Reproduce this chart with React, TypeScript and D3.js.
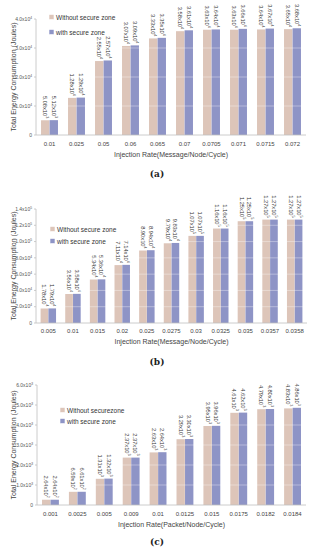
import React from "react";
import * as d3 from "d3";

const catsA = ["0.01", "0.025", "0.05", "0.06", "0.065", "0.07", "0.0705", "0.071", "0.0715", "0.072"];
const withoutA = ["5.08x10^3", "1.28x10^4", "2.55x10^4", "3.07x10^4", "3.33x10^4", "3.58x10^4", "3.63x10^4", "3.63x10^4", "3.64x10^4", "3.65x10^4"];
const withA = ["5.12x10^3", "1.29x10^4", "2.57x10^4", "3.09x10^4", "3.35x10^4", "3.61x10^4", "3.64x10^4", "3.66x10^4", "3.67x10^4", "3.68x10^4"];
const ticksA = ["0", "1.0x10^4", "2.0x10^4", "3.0x10^4", "4.0x10^4"];

const catsB = ["0.005", "0.01", "0.015", "0.02", "0.025", "0.0275", "0.03", "0.0325", "0.035", "0.0357", "0.0358"];
const withoutB = ["1.78x10^4", "3.56x10^4", "5.34x10^4", "7.11x10^4", "8.90x10^4", "9.79x10^4", "1.07x10^5", "1.16x10^5", "1.25x10^5", "1.27x10^5", "1.27x10^5"];
const withB = ["1.79x10^4", "3.58x10^4", "5.36x10^4", "7.14x10^4", "8.94x10^4", "9.83x10^4", "1.07x10^5", "1.16x10^5", "1.25x10^5", "1.27x10^5", "1.27x10^5"];
const ticksB = ["0", "2.0x10^4", "4.0x10^4", "6.0x10^4", "8.0x10^4", "1.0x10^5", "1.2x10^5", "1.4x10^5"];

const catsC = ["0.001", "0.0025", "0.005", "0.009", "0.01", "0.0125", "0.015", "0.0175", "0.0182", "0.0184"];
const withoutC = ["2.64x10^2", "6.59x10^2", "1.31x10^3", "2.37x10^3", "2.63x10^3", "3.29x10^3", "3.95x10^3", "4.61x10^3", "4.79x10^3", "4.83x10^3"];
const withC = ["2.64x10^2", "6.61x10^2", "1.32x10^3", "2.37x10^3", "2.64x10^3", "3.30x10^3", "3.96x10^3", "4.62x10^3", "4.80x10^3", "4.86x10^3"];
const ticksC = ["0", "1.0x10^3", "2.0x10^3", "3.0x10^3", "4.0x10^3", "5.0x10^3", "6.0x10^3"];

const FONT = "'Liberation Sans', Arial, sans-serif";
const C1 = "#ddc5b9";
const C2 = "#8e94c6";

function parseSci(s: string): number {
  if (!s.includes("x10^")) return +s;
  const [m, e] = s.split("x10^");
  return +m * Math.pow(10, +e);
}

function Sci({ s, size }: { s: string; size: number }) {
  if (!s.includes("x10^")) return <>{s}</>;
  const [m, e] = s.split("x10^");
  return (
    <>
      <tspan>{m + "x10"}</tspan>
      <tspan fontSize={size * 0.65} dy={-size * 0.4}>{e}</tspan>
    </>
  );
}

type PanelProps = {
  cats: string[];
  s1: string[];
  s2: string[];
  ticks: string[];
  x0: number;
  x1: number;
  yTop: number;
  yZero: number;
  legendX: number;
  legendY: number;
  legendGap: number;
  names: string[];
  xTitle: string;
  caption: string;
  captionY: number;
  xLabelY: number;
  xTitleY: number;
};

function Panel(p: PanelProps) {
  const tickVals = p.ticks.map(parseSci);
  const yMax = d3.max(tickVals) as number;
  const y = d3.scaleLinear().domain([0, yMax]).range([p.yZero, p.yTop]);
  const x = d3.scaleBand().domain(p.cats).range([p.x0, p.x1]).paddingInner(0.36).paddingOuter(0.18);
  const inner = d3.scaleBand().domain(["a", "b"]).range([0, x.bandwidth()]).padding(0.02);
  const series = [
    { key: "a", data: p.s1, color: C1 },
    { key: "b", data: p.s2, color: C2 },
  ];
  const midX = (p.x0 + p.x1) / 2;
  const yMid = (p.yTop + p.yZero) / 2;
  return (
    <g fontFamily={FONT}>
      <line x1={p.x0} x2={p.x0} y1={p.yTop} y2={p.yZero} stroke="#bfbfbf" strokeWidth={0.8} />
      {tickVals.map((v, i) => (
        <g key={i}>
          <line x1={p.x0 - 2} x2={p.x0} y1={y(v)} y2={y(v)} stroke="#bfbfbf" strokeWidth={0.8} />
          <text x={p.x0 - 4} y={y(v)} dy="0.35em" textAnchor="end" fontSize={5} fill="#555">
            <Sci s={p.ticks[i]} size={5} />
          </text>
        </g>
      ))}
      {series.map((s) =>
        s.data.map((lab, i) => {
          const v = parseSci(lab);
          const bx = (x(p.cats[i]) as number) + (inner(s.key) as number);
          const bw = inner.bandwidth();
          return (
            <g key={s.key + i}>
              <rect x={bx} y={y(v)} width={bw} height={p.yZero - y(v)} fill={s.color} />
              <text
                transform={`translate(${bx + bw / 2},${y(v) - 2}) rotate(90)`}
                textAnchor="end"
                dominantBaseline="central"
                fontSize={5.7}
                fill="#333"
              >
                <Sci s={lab} size={5.7} />
              </text>
            </g>
          );
        })
      )}
      {tickVals.slice(1).map((v, i) => (
        <line key={i} x1={p.x0 + 1} x2={p.x1} y1={y(v)} y2={y(v)} stroke="#ffffff" strokeOpacity={0.45} strokeWidth={0.8} />
      ))}
      <line x1={p.x0} x2={p.x1} y1={p.yZero} y2={p.yZero} stroke="#bfbfbf" strokeWidth={0.8} />
      {p.cats.map((c) => (
        <text key={c} x={(x(c) as number) + x.bandwidth() / 2} y={p.xLabelY} textAnchor="middle" dominantBaseline="central" fontSize={6} fill="#444">
          {c}
        </text>
      ))}
      <text x={midX} y={p.xTitleY} textAnchor="middle" dominantBaseline="central" fontSize={7} fill="#444">
        {p.xTitle}
      </text>
      <text transform={`translate(13,${yMid}) rotate(-90)`} textAnchor="middle" dominantBaseline="central" fontSize={7} fill="#444">
        Total Energy Consumption (Joules)
      </text>
      {[C1, C2].map((col, i) => (
        <g key={i}>
          <rect x={p.legendX} y={p.legendY + i * p.legendGap - 2.5} width={5} height={5} fill={col} stroke="#ffffff" strokeWidth={0.6} />
          <text x={p.legendX + 7} y={p.legendY + i * p.legendGap} dominantBaseline="central" fontSize={6.5} fill="#333">
            {p.names[i]}
          </text>
        </g>
      ))}
      <text x={157} y={p.captionY} textAnchor="middle" dominantBaseline="central" fontSize={9} fontWeight="bold" fontFamily="'DejaVu Serif', serif" fill="#222">
        {p.caption}
      </text>
    </g>
  );
}

export default function App() {
  return (
    <svg width={311} height={550} style={{ position: "absolute", left: 0, top: 0, background: "#fff" }}>
      <rect width={311} height={550} fill="#fff" />
      <Panel
        cats={catsA}
        s1={withoutA}
        s2={withA}
        ticks={ticksA}
        x0={36}
        x1={306}
        yTop={19}
        yZero={135}
        legendX={49}
        legendY={17}
        legendGap={15}
        names={["Without secure zone", "with secure zone"]}
        xTitle="Injection Rate(Message/Node/Cycle)"
        caption="(a)"
        captionY={174}
        xLabelY={144}
        xTitleY={154}
      />
      <Panel
        cats={catsB}
        s1={withoutB}
        s2={withB}
        ticks={ticksB}
        x0={36}
        x1={307}
        yTop={209}
        yZero={323}
        legendX={50}
        legendY={229}
        legendGap={12}
        names={["Without secure zone", "with secure zone"]}
        xTitle="Injection Rate(Message/Node/Cycle)"
        caption="(b)"
        captionY={362}
        xLabelY={331}
        xTitleY={341}
      />
      <Panel
        cats={catsC}
        s1={withoutC}
        s2={withC}
        ticks={ticksC}
        x0={37}
        x1={306}
        yTop={385}
        yZero={505}
        legendX={60}
        legendY={410}
        legendGap={11}
        names={["Without securezone", "with secure zone"]}
        xTitle="Injection Rate(Packet/Node/Cycle)"
        caption="(c)"
        captionY={542}
        xLabelY={514}
        xTitleY={524}
      />
    </svg>
  );
}
